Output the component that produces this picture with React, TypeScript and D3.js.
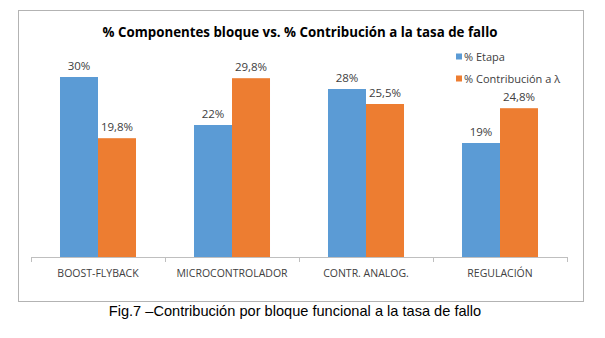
import React from "react";
import * as d3 from "d3";

const categories = ["BOOST-FLYBACK", "MICROCONTROLADOR", "CONTR. ANALOG.", "REGULACIÓN"];
const seriesNames = ["% Etapa", "% Contribución a λ"];
const etapa = [30, 22, 28, 19];
const contribucion = [19.8, 29.8, 25.5, 24.8];
const etapaLabels = ["30%", "22%", "28%", "19%"];
const contribucionLabels = ["19,8%", "29,8%", "25,5%", "24,8%"];
const colors = ["#5b9bd5", "#ed7d31"];
const title = "% Componentes bloque vs. % Contribución a la tasa de fallo";
const caption = "Fig.7 –Contribución por bloque funcional a la tasa de fallo";

export default function App() {
  const W = 605, H = 338;
  const x0 = d3.scaleBand<string>().domain(categories).range([31, 567]).paddingInner(0).paddingOuter(0);
  const x1 = d3.scaleBand<string>().domain(["a", "b"]).range([0, x0.bandwidth()]).paddingInner(0).paddingOuter(0.763);
  const y = d3.scaleLinear().domain([0, 28]).range([257, 89]);
  const font = "'Open Sans', sans-serif";
  const series = [
    { key: "a", values: etapa, labels: etapaLabels, color: colors[0] },
    { key: "b", values: contribucion, labels: contribucionLabels, color: colors[1] },
  ];
  const ticks = categories.map((c) => x0(c)!).concat([x0.range()[1]]);
  return (
    <svg width={W} height={H} style={{ position: "absolute", left: 0, top: 0, background: "#fff" }}>
      <rect x={0} y={0} width={W} height={H} fill="#fff" />
      <rect x={18.5} y={10.5} width={565} height={291} fill="#fff" stroke="#b3b3b3" strokeWidth={1} />
      <text x={300} y={37} textAnchor="middle" fontFamily={font} fontWeight="bold" fontSize={13.3} fill="#000">
        {title}
      </text>
      {series.map((s) =>
        categories.map((c, i) => {
          const bx = x0(c)! + x1(s.key)!;
          const bw = x1.bandwidth();
          const top = y(s.values[i]);
          return (
            <g key={s.key + c}>
              <rect x={bx} y={top} width={bw} height={y(0) - top} fill={s.color} />
              <text x={bx + bw / 2} y={top - 7} textAnchor="middle" fontFamily={font} fontSize={11.5} fill="#404040">
                {s.labels[i]}
              </text>
            </g>
          );
        })
      )}
      <line x1={31} x2={567} y1={257.5} y2={257.5} stroke="#bfbfbf" />
      {ticks.map((t, i) => (
        <line key={i} x1={t + 0.5} x2={t + 0.5} y1={257} y2={262} stroke="#bfbfbf" />
      ))}
      {categories.map((c) => (
        <text key={c} x={x0(c)! + x0.bandwidth() / 2} y={277} textAnchor="middle" fontFamily={font} fontSize={10.5} fill="#404040">
          {c}
        </text>
      ))}
      {seriesNames.map((n, i) => (
        <g key={n} transform={`translate(456, ${57 + i * 22})`}>
          <rect x={0} y={-3.5} width={6} height={6} fill={colors[i]} />
          <text x={8} y={0} dy="0.35em" fontFamily={font} fontSize={11} fill="#404040">
            {n}
          </text>
        </g>
      ))}
      <text x={295} y={316} textAnchor="middle" fontFamily="'Liberation Sans', Arial, sans-serif" fontSize={14.6} fill="#000">
        {caption}
      </text>
    </svg>
  );
}
